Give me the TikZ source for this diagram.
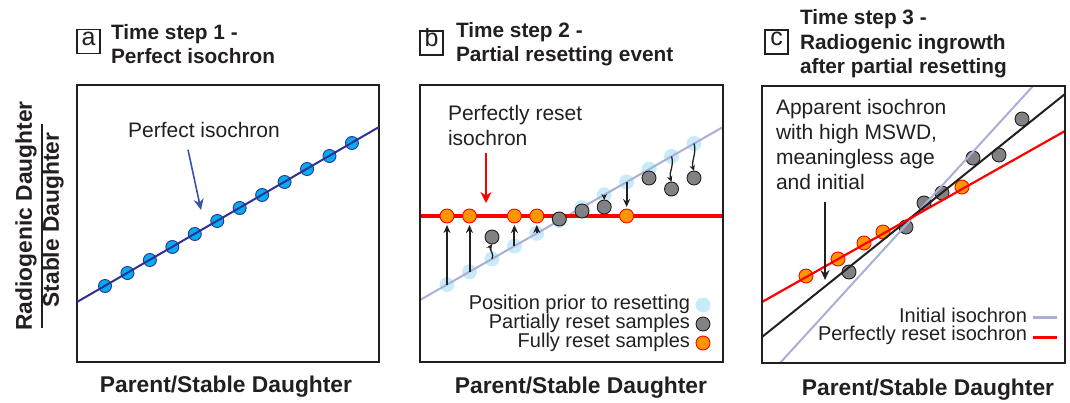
\documentclass[tikz,border=0pt]{standalone}
\usepackage{fontspec}
\setmainfont{Liberation Sans}
\usetikzlibrary{arrows.meta}

\definecolor{c231f20}{RGB}{35,31,32}
\definecolor{c00aeef}{RGB}{0,174,239}
\definecolor{c2e3192}{RGB}{46,49,146}
\definecolor{c3a53a4}{RGB}{58,83,164}
\definecolor{cc8ebfa}{RGB}{200,235,250}
\definecolor{cabafd6}{RGB}{171,175,214}
\definecolor{c808285}{RGB}{128,130,133}
\definecolor{cff9600}{RGB}{255,150,0}
\definecolor{cff0000}{RGB}{255,0,0}

\tikzset{
  plotbox/.style={draw=c231f20,line width=2pt},
  panellabel/.style={draw=c231f20,line width=1.1pt,minimum width=23pt,minimum height=24pt,
    text height=0.73em,text depth=0pt,font=\fontsize{25}{28}\selectfont,text=c231f20},
  titletext/.style={align=left,anchor=west,font=\fontsize{20.8}{24.5}\selectfont\bfseries,text=c231f20},
  axistext/.style={font=\fontsize{22.8}{26}\selectfont\bfseries,text=c231f20},
  notetext/.style={align=left,font=\fontsize{21}{25}\selectfont,text=c231f20},
  keytext/.style={anchor=east,font=\fontsize{20}{22}\selectfont,text=c231f20},
  bluedot/.style={circle,minimum size=13pt,fill=c00aeef,draw=c2e3192,line width=0.9pt},
  priordot/.style={circle,minimum size=15pt,fill=cc8ebfa},
  greydot/.style={circle,minimum size=14pt,fill=c808285,draw=c231f20,line width=0.9pt},
  resetdot/.style={circle,minimum size=14pt,fill=cff9600,draw=cff0000,line width=0.9pt},
  shiftarrow/.style={draw=c231f20,line width=2pt,-{Stealth[length=8pt,width=7pt]}},
  wigglearrow/.style={draw=c231f20,line width=1.3pt,-{Stealth[length=6pt,width=5.5pt]}},
}

\begin{document}
\begin{tikzpicture}[y=1pt, x=1pt, yscale=-1, inner sep=0pt, outer sep=0pt]
\useasboundingbox (0,0) rectangle (1070,402);

% y axis label
\node[axistext,rotate=90] (yaxtop) at (26,216) {Radiogenic Daughter};
\node[axistext,rotate=90] (yaxbot) at (53,220) {Stable Daughter};
\draw[c231f20,line width=2pt] (42,124) -- (42,328);

% ---- panel a
\node[panellabel] (laba) at (88.5,41.5) {a};
\node[titletext] (titlea) at (111,44) {Time step 1 -\\Perfect isochron};
\draw[plotbox] (77,85) rectangle (379,362);
\node[bluedot] (a0) at (105,286) {};
\node[bluedot] (a1) at (127.45,273) {};
\node[bluedot] (a2) at (149.9,260) {};
\node[bluedot] (a3) at (172.35,247) {};
\node[bluedot] (a4) at (194.8,234) {};
\node[bluedot] (a5) at (217.25,221) {};
\node[bluedot] (a6) at (239.7,208) {};
\node[bluedot] (a7) at (262.15,195) {};
\node[bluedot] (a8) at (284.6,182) {};
\node[bluedot] (a9) at (307.05,169) {};
\node[bluedot] (a10) at (329.5,156) {};
\node[bluedot] (a11) at (351.95,143) {};
\draw[c2e3192,line width=2pt] (77,302) -- (379,127);
\node[notetext] (isolabela) at (204,130) {Perfect isochron};
\coordinate (isotipa) at (201,210);
\draw[c3a53a4,line width=1.6pt,-{Stealth[length=11pt,width=10pt,inset=3.5pt]}]
  ([xshift=-16pt,yshift=12pt]isolabela.south) -- (isotipa);
\node[axistext] (xaxa) at (226,387) {Parent/Stable Daughter};

% ---- panel b
\node[panellabel] (labb) at (431.5,43) {b};
\node[titletext] (titleb) at (456,44) {Time step 2 -\\Partial resetting event};
\node[priordot] (p0) at (447.0,284.6) {};
\node[priordot] (p1) at (469.5,271.7) {};
\node[priordot] (p2) at (491.9,258.9) {};
\node[priordot] (p3) at (514.4,246.1) {};
\node[priordot] (p4) at (536.8,233.3) {};
\node[priordot] (p5) at (559.3,220.5) {};
\node[priordot] (p6) at (581.7,207.7) {};
\node[priordot] (p7) at (604.2,194.8) {};
\node[priordot] (p8) at (626.6,182.0) {};
\node[priordot] (p9) at (649.1,169.2) {};
\node[priordot] (p10) at (671.5,156.4) {};
\node[priordot] (p11) at (694.0,143.5) {};
\draw[cabafd6,line width=2pt] (420,300) -- (723,127);
\draw[cff0000,line width=3.2pt] (420,216) -- (723,216);
\node[resetdot] (r0) at (447.0,216) {};
\node[resetdot] (r1) at (469.5,216) {};
\node[greydot] (r2) at (492,237) {};
\node[resetdot] (r3) at (514.4,216) {};
\node[resetdot] (r4) at (536.8,216) {};
\node[greydot] (r5) at (559.3,219) {};
\node[greydot] (r6) at (582,211) {};
\node[greydot] (r7) at (604.2,207) {};
\node[resetdot] (r8) at (626.6,216) {};
\node[greydot] (r9) at (649,178) {};
\node[greydot] (r10) at (671.5,189) {};
\node[greydot] (r11) at (694,178) {};
\draw[shiftarrow,shorten >=2pt] (p0.center) -- (r0.south);
\draw[shiftarrow,shorten >=2pt] (p1.center) -- (r1.south);
\draw[shiftarrow,shorten >=2pt] (p3.center) -- (r3.south);
\draw[shiftarrow,shorten >=2pt] (p4.center) -- (r4.south);
\draw[wigglearrow] (p2.center) .. controls +(3,-4) and +(-3,5) .. (r2.south);
\draw[wigglearrow] (p7.center) -- (r7.north);
\draw[shiftarrow,shorten >=2pt] (p8.center) -- (r8.north);
\draw[wigglearrow] (p10.center) .. controls +(3,9) and +(-3,-9) .. (r10.north);
\draw[wigglearrow] (p11.center) .. controls +(3,9) and +(-3,-9) .. (r11.north);
\node[notetext,anchor=west] (resetlabelb) at (448,125) {Perfectly reset\\isochron};
\coordinate (resettipb) at (486,203);
\draw[cff0000,line width=1.8pt,-{Stealth[length=11pt,width=11pt,inset=3.5pt]}]
  ([xshift=38pt,yshift=8pt]resetlabelb.south west) -- (resettipb);
\node[keytext] (keyprior) at (690,304) {Position prior to resetting};
\node[keytext] (keygrey) at (690,323) {Partially reset samples};
\node[keytext] (keyreset) at (690,342) {Fully reset samples};
\node[priordot] (keypriordot) at (703,305) {};
\node[greydot] (keygreydot) at (703,324) {};
\node[resetdot] (keyresetdot) at (703,343) {};
\draw[plotbox] (420,85) rectangle (723,362);
\node[axistext] (xaxb) at (581,388) {Parent/Stable Daughter};

% ---- panel c
\node[panellabel] (labc) at (776.5,42) {c};
\node[titletext] (titlec) at (800,44) {Time step 3 -\\Radiogenic ingrowth\\after partial resetting};
\node[resetdot] (co1) at (806,276) {};
\node[resetdot] (co2) at (838,259) {};
\node[resetdot] (co3) at (864,243) {};
\node[resetdot] (co4) at (883,232) {};
\node[resetdot] (co5) at (962,187) {};
\node[greydot] (cg1) at (849,272) {};
\node[greydot] (cg2) at (906,227) {};
\node[greydot] (cg3) at (924,203) {};
\node[greydot] (cg4) at (942,193) {};
\node[greydot] (cg5) at (973,158) {};
\node[greydot] (cg6) at (999,155) {};
\node[greydot] (cg7) at (1022,119) {};
\draw[cabafd6,line width=2pt] (780,363) -- (1033,86);
\draw[c231f20,line width=2pt] (762,337) -- (1065,94);
\draw[cff0000,line width=2.2pt] (762,302) -- (1065,131);
\node[notetext,anchor=west] (apparentc) at (776,144.5)
  {Apparent isochron\\with high MSWD,\\meaningless age\\and initial};
\coordinate (apparenttipc) at (825,280);
\draw[c231f20,line width=1.8pt,-{Stealth[length=10pt,width=9pt,inset=3.5pt]}]
  ([xshift=49pt,yshift=12pt]apparentc.south west) -- (apparenttipc);
\node[keytext] (keyinitial) at (1027,315) {Initial isochron};
\node[keytext] (keyresetline) at (1027,335) {Perfectly reset isochron};
\draw[cabafd6,line width=3pt] (1033,317) -- (1057,317);
\draw[cff0000,line width=3pt] (1033,337) -- (1057,337);
\draw[plotbox] (762,86) rectangle (1065,363);
\node[axistext] (xaxc) at (928,390) {Parent/Stable Daughter};

\end{tikzpicture}
\end{document}
